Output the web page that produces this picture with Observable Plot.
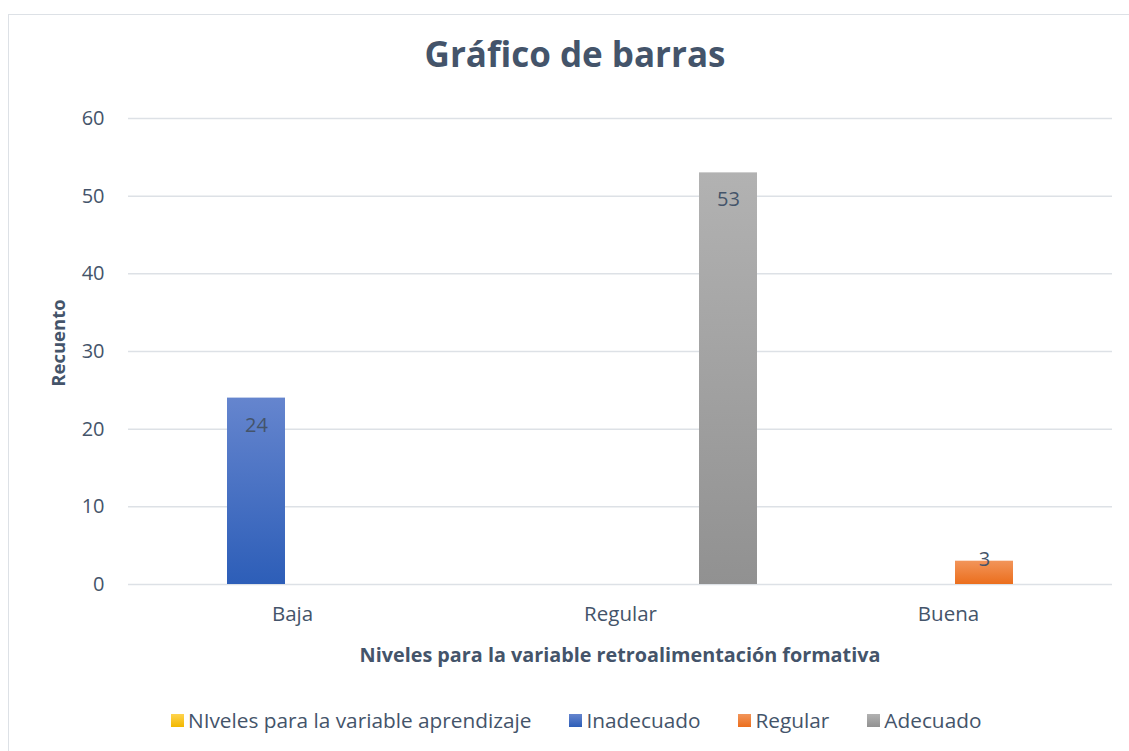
<!DOCTYPE html>
<html><head><meta charset="utf-8">
<script src="https://cdn.jsdelivr.net/npm/d3@7"></script>
<script src="https://cdn.jsdelivr.net/npm/@observablehq/plot@0.6"></script>
<style>
body{margin:0;background:#fff;}
#wrap{position:relative;width:1129px;height:751px;overflow:hidden;font-family:"Open Sans",Lato,sans-serif;color:#44546A;}
#frame{position:absolute;left:8px;top:14px;width:1140px;height:760px;border:1px solid #DDE1E6;box-sizing:border-box;}
#title{position:absolute;left:0;width:1150px;top:34px;text-align:center;font-size:35px;font-weight:700;line-height:40px;}
#ytitle{position:absolute;left:57px;top:343px;transform:translate(-50%,-50%) rotate(-90deg);font-size:18.5px;font-weight:700;white-space:nowrap;}
#xtitle{position:absolute;left:620px;top:654px;transform:translate(-50%,-50%);font-size:19.8px;font-weight:700;white-space:nowrap;}
#legend{position:absolute;left:171px;top:706px;display:flex;align-items:center;font-size:20.8px;white-space:nowrap;}
.item{display:flex;align-items:center;margin-right:38px;}
.sw{width:13px;height:13px;margin-right:4px;}
svg{position:absolute;left:0;top:0;}
</style></head><body>
<div id="wrap"><div id="frame"></div></div>
<script>
// ---- data ----
const categories = ["Baja", "Regular", "Buena"];
const seriesNames = ["NIveles para la variable aprendizaje", "Inadecuado", "Regular", "Adecuado"];
const aprendizaje = [null, null, null];
const inadecuado = [24, null, null];
const regular = [null, null, 3];
const adecuado = [null, 53, null];
const yTicks = [0, 10, 20, 30, 40, 50, 60];
const chartTitle = "Gráfico de barras";
const yLabel = "Recuento";
const xLabel = "Niveles para la variable retroalimentación formativa";

// ---- styles ----
const gradients = [
  ["#FFD34D", "#F2B800"],
  ["#6585CE", "#2D5EB8"],
  ["#F2955A", "#EB6E1D"],
  ["#B2B2B2", "#919191"]
];
const ink = "#44546A";
const font = "'Open Sans', Lato, sans-serif";

const seriesValues = [aprendizaje, inadecuado, regular, adecuado];
const data = [];
seriesValues.forEach((vals, si) => vals.forEach((v, ci) => {
  if (v != null) data.push({cat: categories[ci], series: seriesNames[si], value: v});
}));

const wrap = document.getElementById("wrap");

const svg = Plot.plot({
  width: 1129, height: 751,
  marginLeft: 127, marginRight: 16, marginTop: 118, marginBottom: 167,
  style: {fontFamily: font, fontSize: "20px", color: ink, background: "transparent"},
  fx: {domain: categories, padding: 0, label: null},
  x: {domain: seriesNames, paddingInner: 0.193, paddingOuter: 0.36, axis: null},
  y: {domain: [0, 60], label: null},
  color: {domain: seriesNames, range: seriesNames.map((d, i) => `url(#grad${i})`)},
  marks: [
    Plot.gridY(yTicks, {stroke: "#DDE1E6", strokeOpacity: 1, strokeWidth: 1.5}),
    Plot.axisY(yTicks, {tickSize: 0, tickPadding: 24, fontSize: 20, fill: ink, label: null}),
    Plot.axisFx({anchor: "bottom", tickSize: 0, tickPadding: 22, fontSize: 20.5, fill: ink, label: null}),
    Plot.barY(data, {fx: "cat", x: "series", y: "value", fill: "series"}),
    Plot.text(data, {fx: "cat", x: "series", y: "value", text: d => String(d.value), dy: 27, fontSize: 20, fill: ink, filter: d => d.value >= 10}),
    Plot.text(data, {fx: "cat", x: "series", y: "value", text: d => String(d.value), dy: -2, fontSize: 20, fill: ink, filter: d => d.value < 10})
  ]
});

const defs = d3.select(svg).insert("defs", ":first-child");
gradients.forEach((g, i) => {
  const lg = defs.append("linearGradient").attr("id", `grad${i}`).attr("x1", 0).attr("y1", 0).attr("x2", 0).attr("y2", 1);
  lg.append("stop").attr("offset", "0%").attr("stop-color", g[0]);
  lg.append("stop").attr("offset", "100%").attr("stop-color", g[1]);
});
wrap.appendChild(svg);

const title = document.createElement("div"); title.id = "title"; title.textContent = chartTitle; wrap.appendChild(title);
const yt = document.createElement("div"); yt.id = "ytitle"; yt.textContent = yLabel; wrap.appendChild(yt);
const xt = document.createElement("div"); xt.id = "xtitle"; xt.textContent = xLabel; wrap.appendChild(xt);

const legend = document.createElement("div"); legend.id = "legend";
seriesNames.forEach((name, i) => {
  const it = document.createElement("div"); it.className = "item";
  const sw = document.createElement("div"); sw.className = "sw";
  sw.style.background = `linear-gradient(${gradients[i][0]}, ${gradients[i][1]})`;
  const tx = document.createElement("span"); tx.textContent = name;
  it.appendChild(sw); it.appendChild(tx); legend.appendChild(it);
});
wrap.appendChild(legend);
</script>
</body></html>
